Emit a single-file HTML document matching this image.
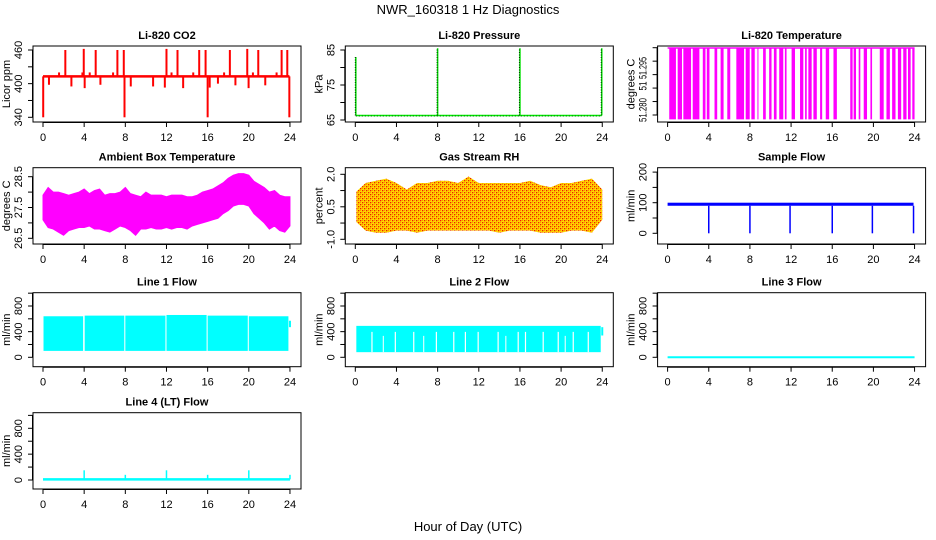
<!DOCTYPE html>
<html><head><meta charset="utf-8"><style>
html,body{margin:0;padding:0;background:#fff;}
svg{display:block;font-family:"Liberation Sans",sans-serif;}
</style></head><body>
<svg id="chart" width="936" height="540" viewBox="0 0 936 540" xmlns="http://www.w3.org/2000/svg">
<defs>
<pattern id="rhpat" width="4" height="4" patternUnits="userSpaceOnUse">
<rect width="4" height="4" fill="#ffd800"/>
<rect x="0" y="0" width="1.3" height="1.3" fill="#ee2000"/>
<rect x="2" y="2" width="1.3" height="1.3" fill="#ee2000"/>
<rect x="2" y="0" width="1" height="1" fill="#ff9000"/>
<rect x="0" y="2" width="1" height="1" fill="#ff9000"/>
</pattern>
</defs>
<text x="468" y="14" text-anchor="middle" font-size="13">NWR_160318  1 Hz Diagnostics</text>
<text x="468" y="531" text-anchor="middle" font-size="13">Hour of Day (UTC)</text>
</svg>
<script>
// ---- data ----
const hourTicks = [0,4,8,12,16,20,24];
const co2Baseline = 413;
const co2SpikeHours = [2.17,3.96,5.12,7.23,7.85,12.0,13.07,15.18,15.8,18.16,19.85,20.92,23.19,23.74,0.02,7.92,16.0,23.94,1.56,3.83,4.54,6.81,12.49,14.6,17.6,20.4,22.7,0.58,2.76,4.05,5.58,8.53,10.7,11.84,13.62,16.2,17.0,18.7,19.98,21.6];
const co2SpikeVals = [460,462,460,460,460,462,460,460,460,460,462,460,460,460,340,340,340,340,420,420,420,420,420,420,420,420,420,398,395,392,398,395,395,393,392,393,400,397,392,397];
const presBaseline = 66.3;
const presSpikeHours = [0.05,8.0,16.0,23.95];
const presSpikeVals = [83,85.5,85.5,85.5];
const tempHigh = 51.2999, tempLow = 51.2787;
const tempBandStart = [0.16,0.98,1.53,2.44,3.42,3.81,4.56,5.15,5.8,6.68,7.59,8.14,8.73,9.28,9.87,10.33,10.85,11.4,12.05,12.87,13.36,13.68,14.17,14.82,15.37,16.12,17.75,18.08,18.57,19.06,19.71,20.62,21.27,21.82,22.38,22.9,23.36,23.78];
const tempBandEnd = [0.81,1.4,2.28,3.09,3.68,4.07,4.82,5.44,6.09,7.43,7.98,8.47,8.83,9.54,10.1,10.59,11.24,11.56,12.38,13.19,13.52,14.0,14.5,15.02,15.7,16.45,17.98,18.31,18.73,19.38,19.87,21.0,21.6,22.15,22.7,23.22,23.62,24.0];
const ambHours = [0,0.5,1,1.5,2,2.5,3,3.5,4,4.5,5,5.5,6,6.5,7,7.5,8,8.5,9,9.5,10,10.5,11,11.5,12,12.5,13,13.5,14,14.5,15,15.5,16,16.5,17,17.5,18,18.5,19,19.5,20,20.5,21,21.5,22,22.5,23,23.5,24];
const ambUpper = [27.9,28.15,28.0,28.0,27.95,27.9,27.95,28.0,28.1,27.95,28.05,28.1,27.9,27.95,27.95,28.0,28.15,27.95,27.9,27.85,28.0,27.9,27.9,27.9,27.85,27.9,27.9,27.9,27.85,27.85,27.9,28.0,28.05,28.1,28.2,28.3,28.45,28.55,28.6,28.6,28.55,28.35,28.25,28.15,28.0,28.05,27.9,27.85,27.85];
const ambLower = [27.1,26.85,26.8,26.7,26.6,26.75,26.8,26.85,26.85,26.9,26.8,26.8,26.75,26.7,26.8,26.9,26.85,26.75,26.6,26.8,26.8,26.85,26.8,26.8,26.85,26.8,26.85,26.85,26.8,26.9,26.95,27.0,27.05,27.1,27.15,27.3,27.4,27.55,27.6,27.6,27.55,27.3,27.15,27.0,26.8,26.9,26.75,26.7,26.9];
const rhHours = [0.1,1,2,3,4,5,6,7,8,9,10,11,12,13,14,15,16,17,18,19,20,21,22,23,24];
const rhUpper = [1.2,1.6,1.7,1.8,1.6,1.3,1.6,1.6,1.7,1.7,1.6,1.9,1.6,1.6,1.6,1.6,1.6,1.7,1.5,1.4,1.6,1.6,1.7,1.8,1.3];
const rhLower = [-0.2,-0.6,-0.7,-0.7,-0.6,-0.6,-0.7,-0.6,-0.6,-0.6,-0.6,-0.6,-0.6,-0.6,-0.7,-0.6,-0.6,-0.6,-0.7,-0.7,-0.7,-0.6,-0.6,-0.7,-0.1];
const sampleBaseLo = 90, sampleBaseHi = 100;
const sampleDropHours = [4,8,11.9,16,19.9,23.9];
const sampleDropVals = [0,0,0,0,0,0];
const line1Starts = [0.05,4.05,8.0,12.0,16.0,20.0];
const line1Ends = [3.9,7.9,11.9,15.9,19.9,23.85];
const line1Hi = [640,650,650,660,650,640];
const line1Lo = [100,100,100,100,100,100];
const line2Hi = 490, line2Lo = 80;
const line2GapHours = [1.62,3.89,5.68,7.88,9.57,10.7,11.94,13.88,15.83,16.54,18.26,19.72,21.18,22.64];
const line2PartialGapHours = [2.72,6.65,14.63,20.4];
const line3Value = 0;
const line4Base = 10;
const line4SpikeHours = [4,8,12,16,20,24];
const line4SpikeVals = [150,80,150,80,150,80];

// ---- drawing ----
const svg = document.getElementById('chart');
const NS = 'http://www.w3.org/2000/svg';
function el(tag, attrs, parent){
  const e = document.createElementNS(NS, tag);
  for (const k in attrs) e.setAttribute(k, attrs[k]);
  (parent||svg).appendChild(e);
  return e;
}
const rowBox = [[46,122],[167.7,244],[292.7,366.7],[412.7,489]];
function makePanel(name, col, row, title, ylab, v1, y1, v2, y2, ticks, labels, labelPos, labelLen){
  const x0 = 43 + 312.3*col, pxh = 10.29;
  const L = x0 - 10, R = x0 + 258, T = rowBox[row][0], B = rowBox[row][1];
  const g = el('g', {});
  
  
  const xs = h => x0 + h*pxh;
  const ys = v => y1 + (v - v1)*(y2 - y1)/(v2 - v1);
  const plot = el('g', {}, g);
  
  
  const box = el('rect', {x:L, y:T, width:R-L, height:B-T, fill:'none', stroke:'#000', 'stroke-width':1}, g);
  
  
  const t = el('text', {x:(L+R)/2, y:T-7, 'text-anchor':'middle', 'font-size':11, 'font-weight':'bold'}, g);
  
  
  t.textContent = title;
  const xa = el('g', {}, g);
  
  
  el('line', {x1:xs(0), x2:xs(24), y1:B+0.5, y2:B+0.5, stroke:'#000'}, xa);
  hourTicks.forEach(h => {
    el('line', {x1:xs(h), x2:xs(h), y1:B, y2:B+5, stroke:'#000'}, xa);
    const tl = el('text', {x:xs(h), y:B+19, 'text-anchor':'middle', 'font-size':11}, xa);
    
    
    tl.textContent = h;
  });
  const ya = el('g', {}, g);
  
  
  el('line', {x1:L-0.5, x2:L-0.5, y1:ys(ticks[0]), y2:ys(ticks[ticks.length-1]), stroke:'#000'}, ya);
  ticks.forEach(v => el('line', {x1:L-5, x2:L, y1:ys(v), y2:ys(v), stroke:'#000'}, ya));
  labels.forEach((lab, i) => {
    const yy = labelPos ? labelPos[i] : ys(lab.v);
    const attrs = {x:0, y:0, 'text-anchor':'middle', 'font-size':11, transform:`translate(${L-11},${yy}) rotate(-90)`};
    if (labelLen) { attrs.textLength = labelLen[i]; attrs.lengthAdjust = 'spacingAndGlyphs'; }
    const tl = el('text', attrs, ya);
    
    
    tl.textContent = lab.t;
  });
  const yl = el('text', {x:0, y:0, 'text-anchor':'middle', 'font-size':11, transform:`translate(${L-23},${(T+B)/2}) rotate(-90)`}, g);
  
  
  yl.textContent = ylab;
  return {xs, ys, plot};
}
const L = a => a.map(v => ({v, t: String(v)}));

// 1 CO2
{
  const p = makePanel('co2', 0, 0, 'Li-820 CO2', 'Licor ppm', 340, 117.3, 460, 50, [340,370,400,430,460], L([340,400,460]));
  co2SpikeHours.forEach((h, i) => {
    const s = el('line', {x1:p.xs(h), x2:p.xs(h), y1:p.ys(co2Baseline), y2:p.ys(co2SpikeVals[i]), stroke:'#ff0000', 'stroke-width':2}, p.plot);
    
    
  });
  const b = el('line', {x1:p.xs(0), x2:p.xs(23.95), y1:p.ys(co2Baseline), y2:p.ys(co2Baseline), stroke:'#ff0000', 'stroke-width':2.5}, p.plot);
  
  
}
// 2 Pressure
{
  const p = makePanel('pressure', 1, 0, 'Li-820 Pressure', 'kPa', 65, 120, 85, 50, [65,70,75,80,85], L([65,75,85]));
  const b = el('line', {x1:p.xs(0.05), x2:p.xs(23.95), y1:p.ys(presBaseline), y2:p.ys(presBaseline), stroke:'#00ee00', 'stroke-width':1.5}, p.plot);
  
  
  el('line', {x1:p.xs(0.05), x2:p.xs(23.95), y1:p.ys(presBaseline)+0.5, y2:p.ys(presBaseline)+0.5, stroke:'#005500', 'stroke-width':1, 'stroke-dasharray':'1,2'}, p.plot);
  presSpikeHours.forEach((h, i) => {
    const s = el('line', {x1:p.xs(h), x2:p.xs(h), y1:p.ys(presBaseline), y2:p.ys(presSpikeVals[i]), stroke:'#00dd00', 'stroke-width':1.5}, p.plot);
    
    
    el('line', {x1:p.xs(h)-0.5, x2:p.xs(h)-0.5, y1:p.ys(presBaseline), y2:p.ys(presSpikeVals[i]), stroke:'#003300', 'stroke-width':1, 'stroke-dasharray':'1,1.5'}, p.plot);
  });
}
// 3 Li-820 Temperature
{
  const p = makePanel('li820-temp', 2, 0, 'Li-820 Temperature', 'degrees C', 51.28, 115, 51.30, 47.7,
    [51.28,51.284,51.288,51.292,51.296,51.30], [{t:'51.280'},{t:'51'},{t:'51.295'}], [110, 86, 68], [24, 9, 22]);
  el('line', {x1:p.xs(0), x2:p.xs(24), y1:p.ys(tempHigh), y2:p.ys(tempHigh), stroke:'#ff00ff', 'stroke-width':1.5}, p.plot);
  tempBandStart.forEach((s, i) => {
    const r = el('rect', {x:p.xs(s), y:p.ys(tempHigh), width:Math.max(1, p.xs(tempBandEnd[i]) - p.xs(s)), height:p.ys(tempLow) - p.ys(tempHigh), fill:'#ff00ff'}, p.plot);
    
    
  });
}
// 4 Ambient
{
  const p = makePanel('ambient', 0, 1, 'Ambient Box Temperature', 'degrees C', 26.5, 238.3, 28.5, 176.7, [26.5,27,27.5,28,28.5], [{v:26.5,t:'26.5'},{v:27.5,t:'27.5'},{v:28.5,t:'28.5'}]);
  let d = '';
  ambHours.forEach((h, i) => { d += (i ? 'L' : 'M') + p.xs(h) + ',' + p.ys(ambUpper[i]); });
  for (let i = ambHours.length - 1; i >= 0; i--) d += 'L' + p.xs(ambHours[i]) + ',' + p.ys(ambLower[i]);
  const a = el('path', {d: d + 'Z', fill:'#ff00ff', stroke:'#ff00ff', 'stroke-width':1}, p.plot);
  
  
}
// 5 RH
{
  const p = makePanel('rh', 1, 1, 'Gas Stream RH', 'percent', -1, 239.3, 2, 174.3, [-1,-0.25,0.5,1.25,2], [{v:-1,t:'-1.0'},{v:0.5,t:'0.5'},{v:2,t:'2.0'}]);
  let d = '';
  rhHours.forEach((h, i) => { d += (i ? 'L' : 'M') + p.xs(h) + ',' + p.ys(rhUpper[i]); });
  for (let i = rhHours.length - 1; i >= 0; i--) d += 'L' + p.xs(rhHours[i]) + ',' + p.ys(rhLower[i]);
  const a = el('path', {d: d + 'Z', fill:'url(#rhpat)'}, p.plot);
  
  
}
// 6 Sample flow
{
  const p = makePanel('sample-flow', 2, 1, 'Sample Flow', 'ml/min', 0, 233.3, 100, 202.7, [0,50,100,150,200], L([0,100,200]));
  const r = el('rect', {x:p.xs(0), y:p.ys(sampleBaseHi), width:p.xs(23.9)-p.xs(0), height:p.ys(sampleBaseLo)-p.ys(sampleBaseHi), fill:'#0000ff'}, p.plot);
  
  
  sampleDropHours.forEach((h, i) => {
    const s = el('line', {x1:p.xs(h), x2:p.xs(h), y1:p.ys(sampleBaseLo), y2:p.ys(sampleDropVals[i]), stroke:'#0000ff', 'stroke-width':1.5}, p.plot);
    
    
  });
}
// 7 Line 1
{
  const p = makePanel('line1-flow', 0, 2, 'Line 1 Flow', 'ml/min', 0, 357.3, 800, 306, [0,200,400,600,800,1000], L([0,400,800]));
  line1Starts.forEach((s, i) => {
    const r = el('rect', {x:p.xs(s), y:p.ys(line1Hi[i]), width:p.xs(line1Ends[i])-p.xs(s), height:p.ys(line1Lo[i])-p.ys(line1Hi[i]), fill:'#00ffff'}, p.plot);
    
    
  });
  el('line', {x1:p.xs(24), x2:p.xs(24), y1:p.ys(470), y2:p.ys(570), stroke:'#00ffff', 'stroke-width':2}, p.plot);
}
// 8 Line 2
{
  const p = makePanel('line2-flow', 1, 2, 'Line 2 Flow', 'ml/min', 0, 357.3, 800, 306, [0,200,400,600,800,1000], L([0,400,800]));
  const r = el('rect', {x:p.xs(0.1), y:p.ys(line2Hi), width:p.xs(23.85)-p.xs(0.1), height:p.ys(line2Lo)-p.ys(line2Hi), fill:'#00ffff'}, p.plot);
  
  
  line2GapHours.forEach(h => el('line', {x1:p.xs(h), x2:p.xs(h), y1:p.ys(line2Hi)+6, y2:p.ys(line2Lo), stroke:'#fff', 'stroke-width':1.2}, p.plot));
  line2PartialGapHours.forEach(h => el('line', {x1:p.xs(h), x2:p.xs(h), y1:p.ys(line2Hi)+10, y2:p.ys(line2Lo), stroke:'#fff', 'stroke-width':1}, p.plot));
  el('line', {x1:p.xs(24), x2:p.xs(24), y1:p.ys(340), y2:p.ys(470), stroke:'#00ffff', 'stroke-width':2}, p.plot);
}
// 9 Line 3
{
  const p = makePanel('line3-flow', 2, 2, 'Line 3 Flow', 'ml/min', 0, 357.3, 800, 306, [0,200,400,600,800,1000], L([0,400,800]));
  const s = el('line', {x1:p.xs(0), x2:p.xs(24), y1:p.ys(line3Value), y2:p.ys(line3Value), stroke:'#00ffff', 'stroke-width':2}, p.plot);
  
  
}
// 10 Line 4
{
  const p = makePanel('line4-flow', 0, 3, 'Line 4 (LT) Flow', 'ml/min', 0, 480, 800, 428.3, [0,200,400,600,800,1000], L([0,400,800]));
  const s = el('line', {x1:p.xs(0), x2:p.xs(24), y1:p.ys(line4Base), y2:p.ys(line4Base), stroke:'#00ffff', 'stroke-width':2.5}, p.plot);
  
  
  line4SpikeHours.forEach((h, i) => {
    const k = el('line', {x1:p.xs(h), x2:p.xs(h), y1:p.ys(line4Base), y2:p.ys(line4SpikeVals[i]), stroke:'#00ffff', 'stroke-width':1.5}, p.plot);
    
    
  });
}
</script>
</body></html>
